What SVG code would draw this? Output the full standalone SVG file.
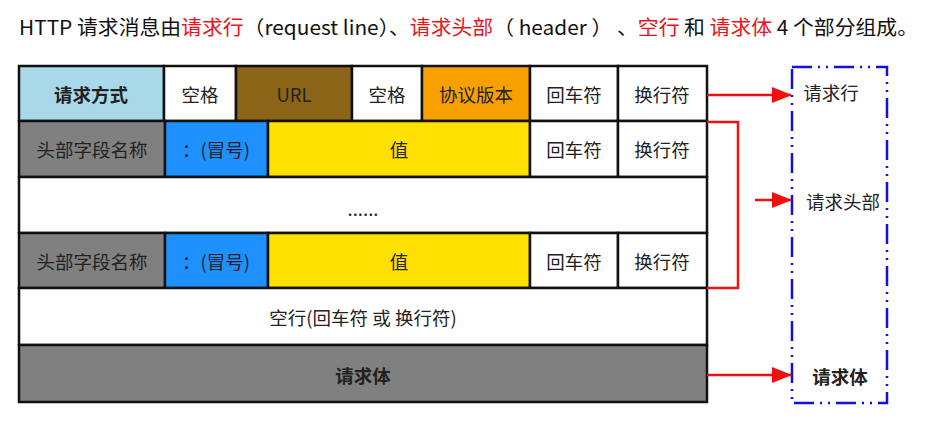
<svg xmlns="http://www.w3.org/2000/svg" width="935" height="428" viewBox="0 0 935 428">
<style>
  .cell { stroke: #111; stroke-width: 2.5; }
  .t { font-family: "Noto Sans CJK SC", "Liberation Sans", sans-serif; font-size: 18.5px; fill: #222; text-anchor: middle; dominant-baseline: central; }
  .b { font-weight: bold; }
  .title { font-family: "Noto Sans CJK SC", "Liberation Sans", sans-serif; font-size: 20px; fill: #111; }
  .red { fill: #e8141b; }
  .conn { stroke: #f01010; stroke-width: 2.5; fill: none; }
  .group { stroke: #1010e0; stroke-width: 2.5; fill: none; stroke-dasharray: 20 6 2 6 2 6; }
</style>
<defs>
  <marker id="ah" markerWidth="20" markerHeight="16" refX="19" refY="8" orient="auto" markerUnits="userSpaceOnUse">
    <path d="M0,0 L20,8 L0,16 z" fill="#f01010"/>
  </marker>
</defs>
<rect width="935" height="428" fill="#fff"/>
<text class="title" x="19" y="35" textLength="899" lengthAdjust="spacingAndGlyphs">HTTP 请求消息由<tspan class="red">请求行</tspan>（request line）、<tspan class="red">请求头部</tspan>（ header ） 、<tspan class="red">空行</tspan> 和 <tspan class="red">请求体</tspan> 4 个部分组成。</text>

<g id="request-line">
  <rect class="cell" x="19" y="66" width="145" height="55" fill="#A9D8E8"/>
  <text class="t b" x="91" y="94">请求方式</text>
  <rect class="cell" x="164" y="66" width="72" height="55" fill="#fff"/>
  <text class="t" x="200" y="94">空格</text>
  <rect class="cell" x="236" y="66" width="116" height="55" fill="#8B6418"/>
  <text class="t" x="294" y="94">URL</text>
  <rect class="cell" x="352" y="66" width="70" height="55" fill="#fff"/>
  <text class="t" x="387" y="94">空格</text>
  <rect class="cell" x="422" y="66" width="108" height="55" fill="#F7A000"/>
  <text class="t" x="476" y="94">协议版本</text>
  <rect class="cell" x="530" y="66" width="88" height="55" fill="#fff"/>
  <text class="t" x="574" y="94">回车符</text>
  <rect class="cell" x="618" y="66" width="89" height="55" fill="#fff"/>
  <text class="t" x="662" y="94">换行符</text>
</g>

<g id="header-1">
  <rect class="cell" x="19" y="121" width="146" height="56" fill="#808080"/>
  <text class="t" x="92" y="149">头部字段名称</text>
  <rect class="cell" x="165" y="121" width="103" height="56" fill="#1E90FF"/>
  <text class="t" x="216" y="149">：(冒号)</text>
  <rect class="cell" x="268" y="121" width="262" height="56" fill="#FFE000"/>
  <text class="t" x="399" y="149">值</text>
  <rect class="cell" x="530" y="121" width="88" height="56" fill="#fff"/>
  <text class="t" x="574" y="149">回车符</text>
  <rect class="cell" x="618" y="121" width="89" height="56" fill="#fff"/>
  <text class="t" x="662" y="149">换行符</text>
</g>

<g id="ellipsis-row">
  <rect class="cell" x="19" y="177" width="688" height="56" fill="#fff"/>
  <text class="t" x="363" y="208">......</text>
</g>

<g id="header-n">
  <rect class="cell" x="19" y="233" width="146" height="55" fill="#808080"/>
  <text class="t" x="92" y="261">头部字段名称</text>
  <rect class="cell" x="165" y="233" width="103" height="55" fill="#1E90FF"/>
  <text class="t" x="216" y="261">：(冒号)</text>
  <rect class="cell" x="268" y="233" width="262" height="55" fill="#FFE000"/>
  <text class="t" x="399" y="261">值</text>
  <rect class="cell" x="530" y="233" width="88" height="55" fill="#fff"/>
  <text class="t" x="574" y="261">回车符</text>
  <rect class="cell" x="618" y="233" width="89" height="55" fill="#fff"/>
  <text class="t" x="662" y="261">换行符</text>
</g>

<g id="blank-line">
  <rect class="cell" x="19" y="288" width="688" height="57" fill="#fff"/>
  <text class="t" x="363" y="317">空行(回车符 或 换行符)</text>
</g>

<g id="request-body">
  <rect class="cell" x="19" y="345" width="688" height="57" fill="#808080"/>
  <text class="t b" x="363" y="375">请求体</text>
</g>

<g id="parts">
  <rect class="group" x="792" y="67" width="95" height="336"/>
  <text class="t" x="831" y="92">请求行</text>
  <text class="t" x="843" y="201">请求头部</text>
  <text class="t b" x="840" y="376">请求体</text>
</g>

<g id="connectors">
  <line class="conn" x1="707" y1="95" x2="791" y2="95" marker-end="url(#ah)"/>
  <polyline class="conn" points="707,122 738,122 738,288 707,288"/>
  <line class="conn" x1="755" y1="200" x2="791" y2="200" marker-end="url(#ah)"/>
  <line class="conn" x1="707" y1="375" x2="791" y2="375" marker-end="url(#ah)"/>
</g>
</svg>
